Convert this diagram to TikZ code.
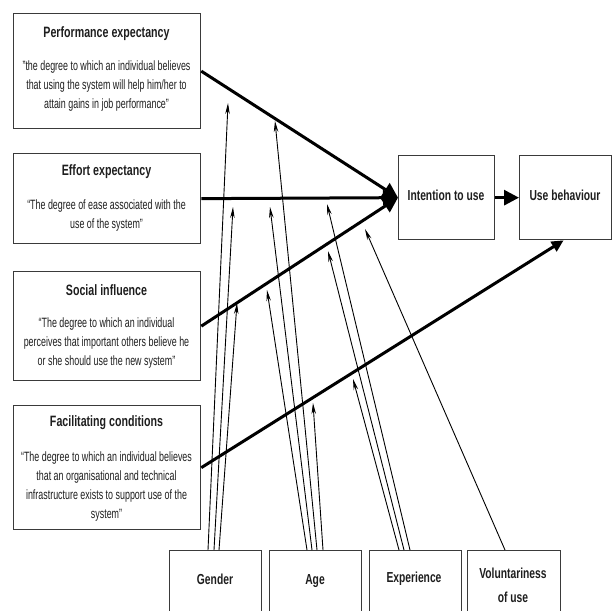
\documentclass[tikz,border=0pt]{standalone}
\usepackage{fontspec}
\setmainfont[FakeStretch=0.66]{Liberation Sans}
\newfontfamily\ttlfont[FakeStretch=0.71]{Liberation Sans}
\usetikzlibrary{arrows.meta}
\definecolor{boxgray}{HTML}{3A3A3A}
\definecolor{txt}{HTML}{1E1E1E}
\begin{document}
\begin{tikzpicture}[x=1pt,y=-1pt,
  box/.style={draw=boxgray, line width=1.3pt, inner sep=0pt, anchor=north west},
  ttl/.style={font=\ttlfont\bfseries\fontsize{15}{17}\selectfont, text=txt, inner sep=0pt},
  dsc/.style={font=\fontsize{13.5}{19}\selectfont, align=center, text=txt, inner sep=0pt},
  lbl/.style={font=\ttlfont\bfseries\fontsize{14.5}{24}\selectfont, align=center, text=txt, inner sep=0pt},
  mainarrow/.style={line width=3pt, -{Triangle[length=15pt,width=15pt]}},
  modarrow/.style={line width=0.9pt, -{Stealth[length=11pt,width=4.5pt]}}]
\useasboundingbox (0,0) rectangle (612,610);
\clip (0,0) rectangle (612,610);
% left boxes
\node[box, minimum width=187pt, minimum height=115pt] (pe) at (13,13) {};
\node[box, minimum width=187pt, minimum height=90pt] (ee) at (13,153) {};
\node[box, minimum width=187pt, minimum height=109pt] (si) at (13,271) {};
\node[box, minimum width=187pt, minimum height=124pt] (fc) at (13,405) {};
% right boxes
\node[box, minimum width=96pt, minimum height=84pt] (iu) at (398,155) {};
\node[box, minimum width=92pt, minimum height=84pt] (ub) at (519,155) {};
% bottom boxes
\node[box, minimum width=92pt, minimum height=80pt] (gen) at (169,550) {};
\node[box, minimum width=92pt, minimum height=80pt] (age) at (269,550) {};
\node[box, minimum width=92pt, minimum height=80pt] (exp) at (369,550) {};
\node[box, minimum width=93pt, minimum height=80pt] (vol) at (467,550) {};
% texts
\node[ttl] (peT) at (106.5,34) {Performance expectancy};
\node[dsc] (peD) at (106.5,86) {"the degree to which an individual believes\\that using the system will help him/her to\\attain gains in job performance"};
\node[ttl] (eeT) at (106.5,172) {Effort expectancy};
\node[dsc] (eeD) at (106.5,215.5) {“The degree of ease associated with the\\use of the system”};
\node[ttl] (siT) at (106.5,290) {Social influence};
\node[dsc] (siD) at (106.5,343) {“The degree to which an individual\\perceives that important others believe he\\or she should use the new system”};
\node[ttl] (fcT) at (106.5,423) {Facilitating conditions};
\node[dsc] (fcD) at (106.5,487) {“The degree to which an individual believes\\that an organisational and technical\\infrastructure exists to support use of the\\system”};
\node[lbl] (iuT) at (446,195) {Intention to use};
\node[lbl] (ubT) at (565,195) {Use behaviour};
\node[lbl] (genT) at (215,579) {Gender};
\node[lbl] (ageT) at (315,581) {Age};
\node[lbl] (expT) at (414,579) {Experience};
\node[lbl] (volT) at (513,585) {Voluntariness\\of use};
% main arrows
\draw[mainarrow] (pe.east) -- (iu.west);
\draw[mainarrow] (ee.east) -- (iu.west);
\draw[mainarrow] (si.east) -- (iu.west);
\draw[mainarrow] (iu.east) -- (ub.west);
\draw[line width=3pt, -{Triangle[length=12pt,width=11pt]}] (fc.east) -- ([xshift=-2pt]ub.south);
% moderator start points
\coordinate (g1) at (208,550); \coordinate (g2) at (214,550); \coordinate (g3) at (219,550);
\coordinate (a1) at (307,550); \coordinate (a2) at (312,550); \coordinate (a3) at (317,550); \coordinate (a4) at (323,550);
\coordinate (e1) at (399,550); \coordinate (e2) at (404,550); \coordinate (e3) at (410,550);
\coordinate (v1) at (505,550);
% moderator targets
\coordinate (tgpe) at (228,103); \coordinate (tgee) at (233,207); \coordinate (tgsi) at (237,303);
\coordinate (tasi) at (267,290); \coordinate (taee) at (270,207); \coordinate (tape) at (275,121); \coordinate (tafc) at (313,403);
\coordinate (tefc) at (353,379); \coordinate (tesi) at (328,251); \coordinate (teee) at (327,204);
\coordinate (tvsi) at (365,229);
\draw[modarrow] (g1) -- (tgpe);
\draw[modarrow] (g2) -- (tgee);
\draw[modarrow] (g3) -- (tgsi);
\draw[modarrow] (a1) -- (tasi);
\draw[modarrow] (a2) -- (taee);
\draw[modarrow] (a3) -- (tape);
\draw[modarrow] (a4) -- (tafc);
\draw[modarrow] (e1) -- (tefc);
\draw[modarrow] (e2) -- (tesi);
\draw[modarrow] (e3) -- (teee);
\draw[modarrow] (v1) -- (tvsi);
\end{tikzpicture}
\end{document}
